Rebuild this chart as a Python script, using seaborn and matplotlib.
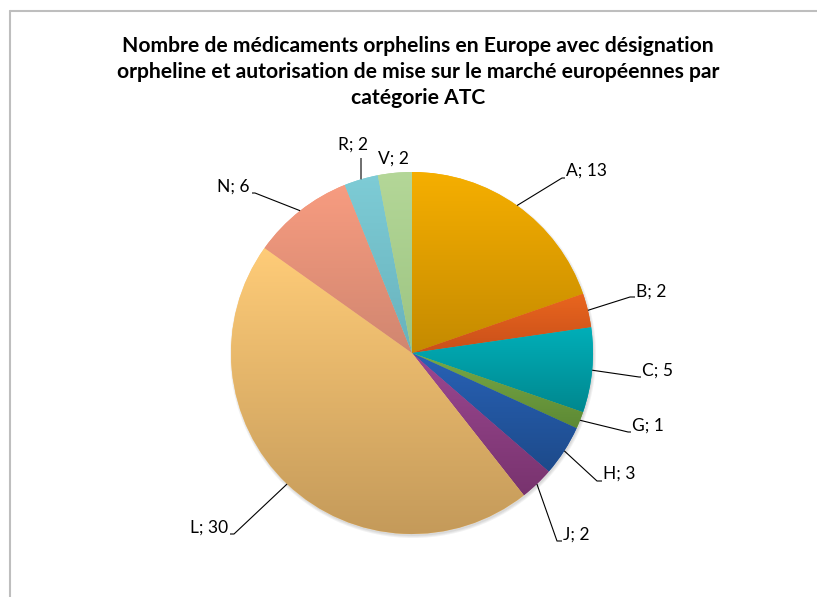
import numpy as np
import matplotlib
matplotlib.use("Agg")
import matplotlib.pyplot as plt
import seaborn as sns
from matplotlib.colors import to_rgb
from matplotlib.patches import Circle

# ---- data ----
categories = ["A", "B", "C", "G", "H", "J", "L", "N", "R", "V"]
values = [13, 2, 5, 1, 3, 2, 30, 6, 2, 2]
title = ("Nombre de médicaments orphelins en Europe avec désignation\n"
         "orpheline et autorisation de mise sur le marché européennes par\n"
         "catégorie ATC")

# ---- style ----
top_colors = ["#F6AF00", "#EA661E", "#00AFB9", "#78A947", "#2862B6",
              "#9C4892", "#FFCC78", "#F89C80", "#7ECCD6", "#B4D798"]
bottom_colors = ["#C48A00", "#C84F1A", "#00878E", "#5D8934", "#1D4A8A",
                 "#78336E", "#C49A5A", "#D08670", "#68B2BC", "#9CC481"]

# label layout in pixel coordinates: (x, y, ha, elbow)
label_layout = [
    (566, 171, "left", (562, 178)),
    (636, 292, "left", (630, 297)),
    (642, 371, "left", (639, 377)),
    (632, 426, "left", (628, 432)),
    (603, 474, "left", (597, 481)),
    (563, 535, "left", (557, 541)),
    (228, 528, "right", (234, 534)),
    (250, 187, "right", (255, 193)),
    (353, 145, "center", (361, 158)),
    (393, 159, "center", None),
]

W, H = 817, 597
cx, cy, R = 412, 353, 181

sns.set_theme(style="white")
plt.rcParams["font.family"] = ["Lato", "DejaVu Sans"]

fig = plt.figure(figsize=(W / 100, H / 100), dpi=100)
ax = fig.add_axes([0, 0, 1, 1])


def Y(y):
    return H - y


# subtle shadow
for i, a in enumerate([0.10, 0.10, 0.12]):
    ax.add_patch(Circle((cx + 1, Y(cy) - 2), R + 2 - i, color="#808080",
                        alpha=a, lw=0, zorder=1))

wedges, _ = ax.pie(values, colors=top_colors, startangle=90, counterclock=False,
                   center=(cx, Y(cy)), radius=R,
                   wedgeprops=dict(linewidth=0, zorder=2))

# gradient fills
for w, c1, c2 in zip(wedges, top_colors, bottom_colors):
    t = np.linspace(np.radians(w.theta1), np.radians(w.theta2), 200)
    xs = np.concatenate([[cx], cx + R * np.cos(t)])
    ys = np.concatenate([[Y(cy)], Y(cy) + R * np.sin(t)])
    x0, x1, y0, y1 = xs.min(), xs.max(), ys.min(), ys.max()
    a1, a2 = np.array(to_rgb(c1)), np.array(to_rgb(c2))
    f = np.linspace(0, 1, 256)[:, None]
    grad = (a1[None, :] * (1 - f) + a2[None, :] * f)[:, None, :]
    im = ax.imshow(grad, extent=(x0 - 1, x1 + 1, y0 - 1, y1 + 1),
                   origin="upper", aspect="auto", zorder=3,
                   interpolation="bilinear")
    im.set_clip_path(w)

# labels with leader lines
for w, cat, val, (lx, ly, ha, elbow) in zip(wedges, categories, values, label_layout):
    mid = np.radians((w.theta1 + w.theta2) / 2)
    ex, ey = cx + R * np.cos(mid), Y(cy) + R * np.sin(mid)
    if elbow is not None:
        bx, by = elbow
        pts_x = [ex, bx]
        pts_y = [ey, Y(by)]
        if ha == "left":
            pts_x.append(lx - 1)
            pts_y.append(Y(by))
        elif ha == "right":
            pts_x.append(lx + 2)
            pts_y.append(Y(by))
        ax.plot(pts_x, pts_y, color="black", lw=0.8, zorder=4,
                solid_capstyle="butt")
    ax.text(lx, Y(ly), f"{cat}; {val}", ha=ha, va="center",
            fontsize=12.5, color="black", zorder=5)

ax.text(418, Y(72), title, ha="center", va="center", fontsize=15.2,
        fontweight="bold", linespacing=1.38, color="black")

# chart frame (top and left visible)
ax.plot([10, W], [Y(11), Y(11)], color="#BEBEBE", lw=1.5, zorder=6)
ax.plot([10, 10], [Y(11), 0], color="#BEBEBE", lw=1.5, zorder=6)

ax.set_xlim(0, W)
ax.set_ylim(0, H)
ax.set_aspect("auto")
ax.axis("off")

fig.savefig("out.png", dpi=100, facecolor="white")
